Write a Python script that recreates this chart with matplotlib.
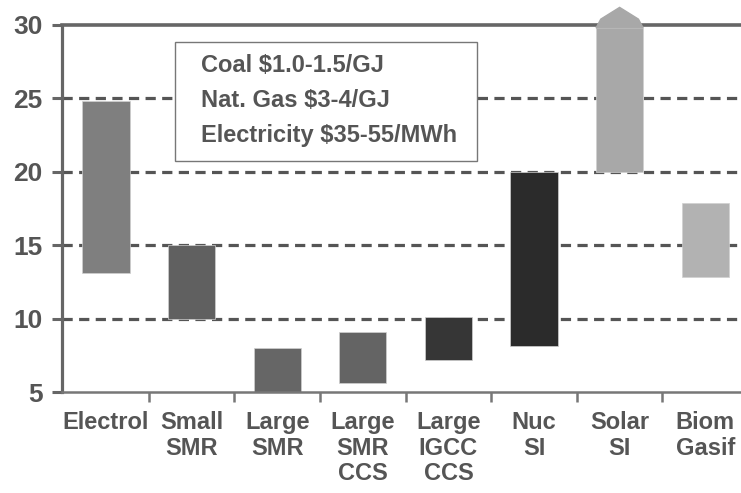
import matplotlib
matplotlib.use("Agg")
import matplotlib.pyplot as plt
from matplotlib.patches import Rectangle, Polygon

categories = ["Electrol", "Small\nSMR", "Large\nSMR", "Large\nSMR\nCCS", "Large\nIGCC\nCCS", "Nuc\nSI", "Solar\nSI", "Biom\nGasif"]
low = [13.1, 10.0, 5.0, 5.6, 7.2, 8.1, 20.0, 12.8]
high = [24.8, 15.0, 8.0, 9.1, 10.1, 20.0, 29.8, 17.9]
colors = ["#7f7f7f", "#606060", "#666666", "#646464", "#363636", "#2b2b2b", "#a8a8a8", "#b2b2b2"]
arrow_tip = 31.2  # Solar SI open-ended upper bound
arrow_index = 6
yticks = [5, 10, 15, 20, 25, 30]
grid_values = [10, 15, 20, 25]
box_lines = ["Coal \\$1.0-1.5/GJ", "Nat. Gas \\$3-4/GJ", "Electricity \\$35-55/MWh"]

plt.rcParams['font.family'] = ['Liberation Sans', 'DejaVu Sans']
TXT = "#555555"

fig = plt.figure(figsize=(7.41, 4.93), dpi=100)
ax = fig.add_axes([62/741, 1-392/493, 1-62/741, (392-25)/493])

x = list(range(len(categories)))
w = 0.55
for g in grid_values:
    ax.axhline(g, color="#555555", lw=2.3, dashes=(3.2, 2.0), zorder=1)

ax.bar(x, [h - l for h, l in zip(high, low)], bottom=low, width=w, color=colors,
       edgecolor="#d0d0d0", linewidth=0.5, zorder=2)

# arrow head on Solar SI
xa = x[arrow_index]
ax.add_patch(Polygon([(xa - w/2, high[arrow_index]), (xa - w/2*0.8, 30.4), (xa, arrow_tip),
                      (xa + w/2*0.8, 30.4), (xa + w/2, high[arrow_index])],
                     closed=True, color=colors[arrow_index], clip_on=False, zorder=4))

ax.set_xlim(-0.514, 7.418)
ax.set_ylim(5, 30)

ax.set_yticks(yticks)
ax.set_yticklabels([str(v) for v in yticks], fontsize=19, fontweight="bold", color=TXT)
ax.tick_params(axis="y", length=7, width=2.2, color="#666666", pad=7)

ax.set_xticks([i + 0.5 for i in x[:-1]])
ax.set_xticklabels([])
ax.set_xticks(x, minor=True)
ax.set_xticklabels(categories, minor=True, fontsize=17, fontweight="bold", color=TXT,
                   linespacing=1.12, va="top")
ax.tick_params(axis="x", which="major", length=7, width=1.8, color="#777777", direction="out")
ax.tick_params(axis="x", which="minor", length=0, pad=14)

ax.spines["left"].set_color("#666666")
ax.spines["left"].set_linewidth(2.3)
ax.spines["top"].set_color("#666666")
ax.spines["top"].set_linewidth(2.6)
ax.spines["bottom"].set_color("#777777")
ax.spines["bottom"].set_linewidth(1.8)
ax.spines["right"].set_visible(False)
for s in ax.spines.values():
    s.set_zorder(3)

ax.add_patch(Rectangle((0.166, 0.629), 0.445, 0.325, transform=ax.transAxes,
                       facecolor="white", edgecolor="#777777", lw=1.0, zorder=5))
for line, yy in zip(box_lines, [0.872, 0.777, 0.681]):
    ax.text(0.2047, yy, line, transform=ax.transAxes, fontsize=17, fontweight="bold",
            color=TXT, va="baseline", ha="left", zorder=6)

fig.savefig("out.png", dpi=100)
